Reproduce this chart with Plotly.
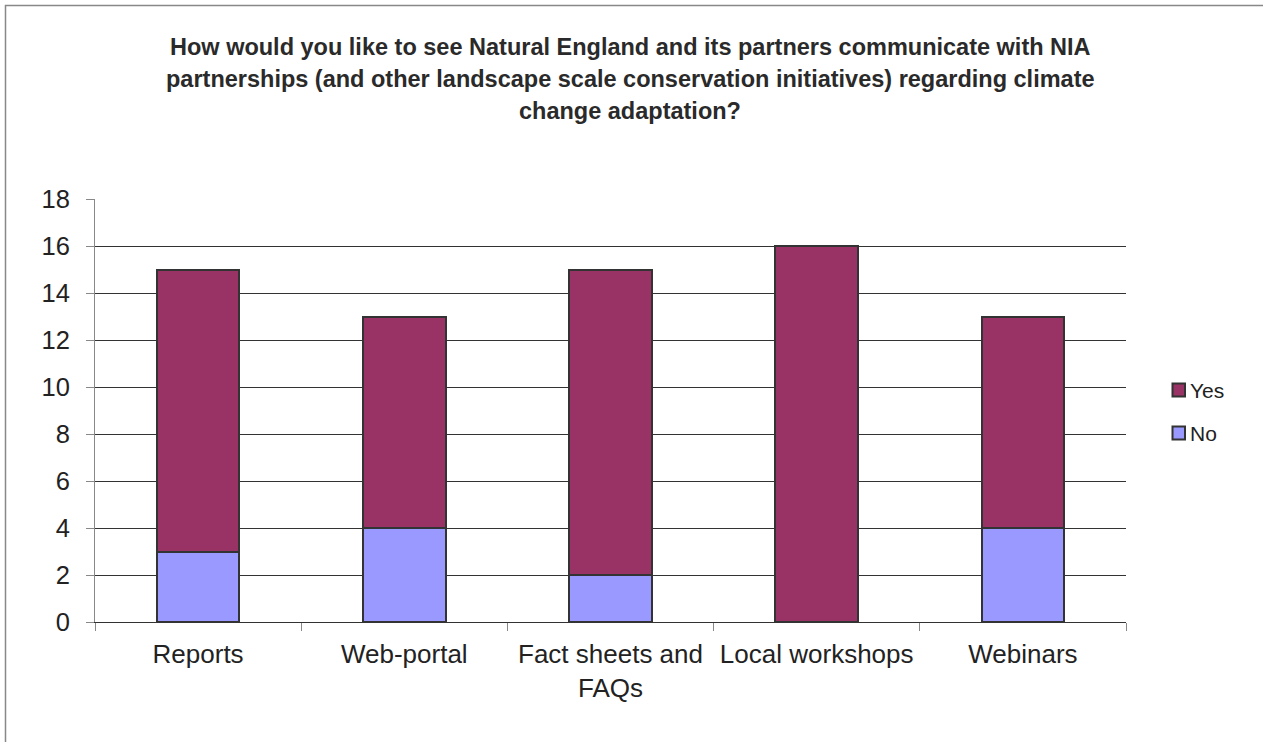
import plotly.graph_objects as go

categories = ["Reports", "Web-portal", "Fact sheets and<br>FAQs", "Local workshops", "Webinars"]
no_values = [3, 4, 2, 0, 4]
yes_values = [12, 9, 13, 16, 9]
y_ticks = [0, 2, 4, 6, 8, 10, 12, 14, 16, 18]
title_lines = [
    "How would you like to see Natural England and its partners communicate with NIA",
    "partnerships (and other landscape scale conservation initiatives) regarding climate",
    "change adaptation?",
]
series_names = ["Yes", "No"]
series_colors = {"Yes": "#993366", "No": "#9999FF"}

W, H = 1263, 742
L, R, T, B = 95, 1126, 199, 622
FONT = "Liberation Sans, Arial, sans-serif"

fig = go.Figure()
fig.add_trace(go.Bar(x=categories, y=no_values, name="No",
                     marker=dict(color=series_colors["No"], line=dict(color="#333333", width=2)),
                     width=0.4, showlegend=False))
fig.add_trace(go.Bar(x=categories, y=yes_values, name="Yes",
                     marker=dict(color=series_colors["Yes"], line=dict(color="#333333", width=2)),
                     width=0.4, showlegend=False))

pw = R - L
ph = B - T
def px_x(x):
    return (x - L) / pw
def px_y(y):
    return (B - y) / ph

# outer chart border
fig.add_shape(type="rect", xref="paper", yref="paper",
              x0=px_x(5.5), x1=px_x(1300),
              y0=px_y(800), y1=px_y(5.5),
              line=dict(color="#888888", width=1.5), fillcolor="rgba(0,0,0,0)", layer="below")

# title lines
for i, line in enumerate(title_lines):
    fig.add_annotation(text=line, xref="paper", yref="paper",
                       x=px_x(630), y=px_y(47 + 32 * i), xanchor="center", yanchor="middle",
                       showarrow=False, font=dict(family=FONT, size=23.5, color="#2a2a2a", weight="bold"))

# legend (manual)
legend_y = {"Yes": 390, "No": 433}
for name in series_names:
    cy = legend_y[name]
    fig.add_shape(type="rect", xref="paper", yref="paper",
                  x0=px_x(1172.5), x1=px_x(1185), y0=px_y(cy + 6.5), y1=px_y(cy - 6.5),
                  line=dict(color="#333333", width=2), fillcolor=series_colors[name])
    fig.add_annotation(text=name, xref="paper", yref="paper",
                       x=px_x(1188), y=px_y(cy), xanchor="left", yanchor="middle",
                       showarrow=False, font=dict(family=FONT, size=21, color="#222222"))

fig.update_layout(
    width=W, height=H,
    barmode="stack",
    paper_bgcolor="white", plot_bgcolor="white",
    margin=dict(l=L, r=W - R, t=T, b=H - B, pad=0),
    font=dict(family=FONT, color="#222222", size=19),
    showlegend=False,
    bargap=0.6,
)
fig.update_yaxes(range=[0, 18], tickvals=y_ticks, showgrid=True, gridcolor="#333333", gridwidth=1,
                 zeroline=False, showline=True, linecolor="#888888", linewidth=1,
                 ticks="outside", ticklen=8, tickcolor="#888888", tickfont=dict(size=25.5),
                 ticklabelstandoff=11)
fig.update_xaxes(showgrid=False, showline=True, linecolor="#333333", linewidth=1,
                 ticks="outside", ticklen=8, tickcolor="#888888", tickson="boundaries",
                 tickfont=dict(size=26), ticklabelstandoff=9)

fig.write_html("out.html")
